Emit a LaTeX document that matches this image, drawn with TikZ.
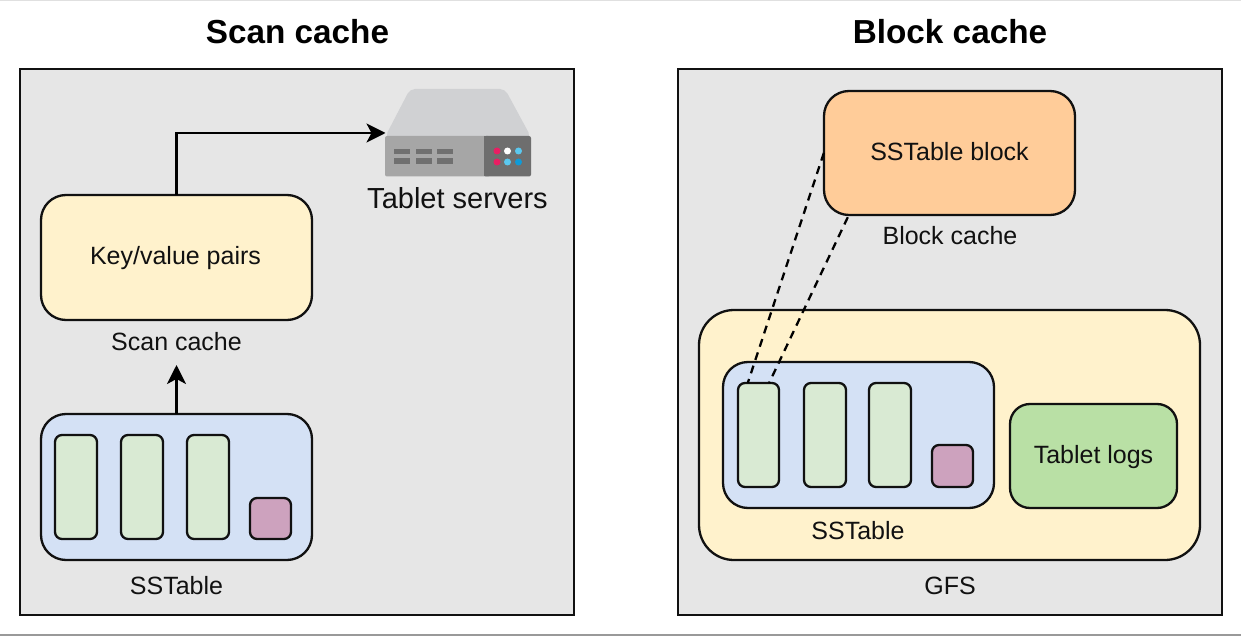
\documentclass[tikz,border=0pt]{standalone}
\usepackage{fontspec}
\setmainfont{Liberation Sans}
\usetikzlibrary{arrows.meta,calc}
\definecolor{panelc}{HTML}{E6E6E6}
\definecolor{yellowc}{HTML}{FFF2CC}
\definecolor{bluec}{HTML}{D4E1F5}
\definecolor{greenc}{HTML}{D9EAD3}
\definecolor{purplec}{HTML}{CDA2BE}
\definecolor{orangec}{HTML}{FFCC99}
\definecolor{logc}{HTML}{B9E0A5}
\definecolor{edgec}{HTML}{111111}
\tikzset{
  x=1pt,y=-1pt,
  box/.style={draw=edgec,line width=2.3pt,rounded corners=#1},
  box/.default=25pt,
  panel/.style={draw=edgec,line width=2.3pt,fill=panelc},
  label/.style={font=\fontsize{25}{29}\selectfont,text=edgec,inner sep=0pt},
  titletext/.style={font=\fontsize{33.3}{38}\selectfont\bfseries,text=black,inner sep=0pt},
  flow/.style={draw=black,line width=2.3pt,-{Stealth[length=19pt,width=19pt,inset=5pt]}},
  linkdash/.style={draw=black,line width=2.3pt,dash pattern=on 8pt off 6pt},
  rule/.style={draw=#1,line width=2pt},
}
\newcommand{\rbox}[6]{% name, x1,y1,x2,y2, style
  \path[#6] (#2,#3) rectangle (#4,#5);
  \node[inner sep=0pt,minimum width=#4pt-#2pt,minimum height=#5pt-#3pt] (#1) at ({(#2+#4)/2},{(#3+#5)/2}) {};
}
\begin{document}
\begin{tikzpicture}
\useasboundingbox (0,0) rectangle (1241,636);
\fill[white] (0,0) rectangle (1241,636);
\draw[rule=black!12] (0,0.5) -- (1241,0.5);
\draw[rule=black!40] (0,635) -- (1241,635);

% panels
\rbox{leftpanel}{20}{69}{574}{615}{panel}
\rbox{rightpanel}{678}{69}{1222}{615}{panel}
\node[titletext] (t1) at (297.5,32) {Scan cache};
\node[titletext] (t2) at (950,32) {Block cache};

% left panel
\rbox{kv}{41}{195}{312}{320}{box,fill=yellowc}
\node[label] (kvt) at (175.5,258.5) {Key/value pairs};
\node[label] (sc) at (176.5,342) {Scan cache};
\rbox{ssl}{41}{414}{312}{560}{box,fill=bluec}
\rbox{l1}{55}{435}{97}{539}{box=7pt,fill=greenc}
\rbox{l2}{121}{435}{163}{539}{box=7pt,fill=greenc}
\rbox{l3}{187}{435}{229}{539}{box=7pt,fill=greenc}
\rbox{l4}{250}{498}{291}{539}{box=7pt,fill=purplec}
\node[label] (sslt) at (176.5,586) {SSTable};

% server
\begin{scope}
  \fill[fill={rgb,255:red,208;green,209;blue,211},rounded corners=5pt] (385,137) -- (410,89) -- (505,89) -- (531,137) -- cycle;
  \fill[fill={rgb,255:red,166;green,166;blue,166},rounded corners=2pt] (385,136) rectangle (490,176.5);
  \fill[fill={rgb,255:red,110;green,110;blue,110},rounded corners=2pt] (484,136) rectangle (531,176.5);
  \fill[fill={rgb,255:red,110;green,110;blue,110}] (484,136) rectangle (490,176.5);
  \foreach \sx in {394,415.5,437}{
    \foreach \sy in {149,158.5}{
      \fill[fill={rgb,255:red,112;green,112;blue,112}] (\sx,\sy) rectangle ++(16,5.5);
    }
  }
  \fill[fill={rgb,255:red,233;green,30;blue,99}] (497,151) circle (3.5pt) (497,162) circle (3.5pt);
  \fill[white] (507.5,151) circle (3.5pt);
  \fill[fill={rgb,255:red,91;green,200;blue,239}] (518.5,151) circle (3.5pt) (507.5,162) circle (3.5pt);
  \fill[fill={rgb,255:red,15;green,155;blue,215}] (518.5,162) circle (3.5pt);
\end{scope}
\coordinate (srv) at (385.5,133);
\node[label,font=\fontsize{29}{33}\selectfont] (srvt) at (457.5,198) {Tablet servers};

\draw[flow] (kv.north) |- (srv);
\coordinate (scin) at (176.5,365);
\draw[flow] (ssl.north) -- (scin);

% right panel
\rbox{gfs}{699}{310}{1200}{560}{box=35pt,fill=yellowc}
\rbox{ssr}{723}{362}{994}{508}{box,fill=bluec}
\rbox{r1}{738}{383}{779}{487}{box=7pt,fill=greenc}
\rbox{r2}{804}{383}{846}{487}{box=7pt,fill=greenc}
\rbox{r3}{869}{383}{911}{487}{box=7pt,fill=greenc}
\rbox{r4}{932}{445}{973}{487}{box=7pt,fill=purplec}
\rbox{logs}{1010}{404}{1177}{508}{box=20pt,fill=logc}
\node[label] (logt) at (1093.5,457.5) {Tablet logs};
\node[label] (ssrt) at (858,531) {SSTable};
\node[label] (gfst) at (950,586) {GFS};
\rbox{blk}{824}{91}{1075}{215}{box,fill=orangec}
\node[label] (blkt) at (949.5,152) {SSTable block};
\node[label] (bct) at (950,236) {Block cache};

\coordinate (d1a) at ($(blk.west)+(0,0)$);
\coordinate (d1b) at ($(r1.north west)+(10,0)$);
\coordinate (d2a) at ($(blk.south west)+(24,2)$);
\coordinate (d2b) at ($(r1.north east)+(-10,0)$);
\draw[linkdash] (d1a) -- (d1b);
\draw[linkdash] (d2a) -- (d2b);
\end{tikzpicture}
\end{document}
